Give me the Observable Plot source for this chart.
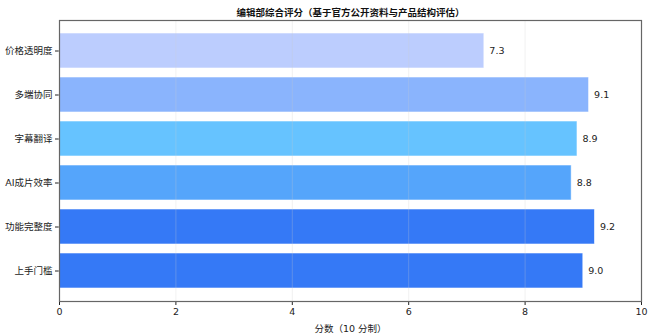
<!DOCTYPE html>
<html>
<head>
<meta charset="utf-8">
<script src="https://cdn.jsdelivr.net/npm/d3@7"></script>
<script src="https://cdn.jsdelivr.net/npm/@observablehq/plot@0.6"></script>
<style>
  html, body { margin: 0; padding: 0; background: #fff; }
  #chart svg { display: block; }
</style>
</head>
<body>
<div id="chart"></div>
<script>
const categories = ["价格透明度", "多端协同", "字幕翻译", "AI成片效率", "功能完整度", "上手门槛"];
const scores = [7.3, 9.1, 8.9, 8.8, 9.2, 9.0];
const barColors = ["#bccdfe", "#8ab4fd", "#66c3ff", "#55a5fb", "#3579f6", "#3579f6"];
const xTicks = [0, 2, 4, 6, 8, 10];
const titleText = "编辑部综合评分（基于官方公开资料与产品结构评估）";
const xLabel = "分数（10 分制）";

const data = categories.map((c, i) => ({category: c, score: scores[i], color: barColors[i]}));

const chart = Plot.plot({
  width: 653,
  height: 336,
  marginTop: 20,
  marginBottom: 35,
  marginLeft: 59,
  marginRight: 12,
  style: {fontFamily: "'DejaVu Sans', 'Noto Sans CJK SC', sans-serif", fontSize: "9.5px", color: "#222", background: "#fff"},
  x: {domain: [0, 10], ticks: xTicks, tickSize: 4, tickPadding: 3, label: xLabel, labelAnchor: "center", labelArrow: "none", labelOffset: 30},
  y: {domain: categories, paddingInner: 0.2, paddingOuter: 0.29, align: 0.5, tickSize: 4, tickPadding: 3, label: null},
  marks: [
    Plot.barX(data, {x: "score", y: "category", fill: "color", stroke: "white", strokeOpacity: 0.7, strokeWidth: 0.8}),
    Plot.gridX(xTicks, {stroke: "#ccc", strokeOpacity: 0.35, strokeWidth: 0.8}),
    Plot.text(data, {x: "score", y: "category", text: d => d.score.toFixed(1), textAnchor: "start", dx: 5, fill: "#222", fontSize: 9.5}),
    Plot.frame({stroke: "#666", strokeWidth: 1.2}),
    Plot.text([titleText], {frameAnchor: "top", dy: -11, fontWeight: "bold", fontSize: 9.5, fill: "#111"})
  ]
});

document.getElementById("chart").appendChild(chart);
</script>
</body>
</html>
